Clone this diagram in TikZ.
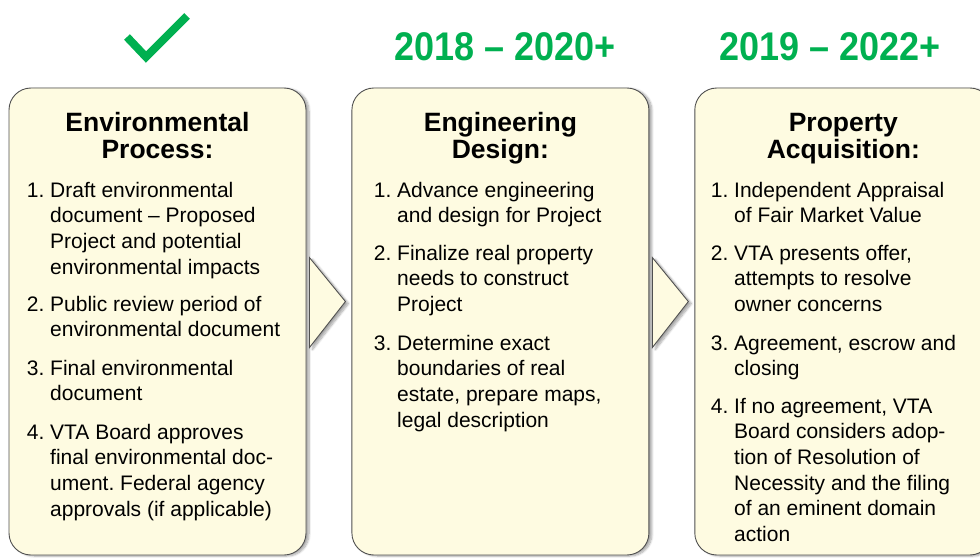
\documentclass[tikz,border=0pt]{standalone}
\usepackage{fontspec}
\setmainfont{Liberation Sans}
\newfontfamily\yearfont[FakeStretch=0.9]{Liberation Sans}
\usetikzlibrary{positioning,shadows.blur}
\definecolor{cream}{RGB}{254,251,225}
\definecolor{frame}{RGB}{80,80,80}
\definecolor{okgreen}{RGB}{0,176,80}
\frenchspacing

\begin{document}
\begin{tikzpicture}[x=1pt,y=-1pt,
    stage/.style={draw=frame,line width=0.9pt,fill=cream,rounded corners=22pt,
        minimum width=297pt,minimum height=467pt,inner sep=0pt,
        blur shadow={shadow xshift=3pt,shadow yshift=-1pt,shadow opacity=35,shadow blur steps=8}},
    tri/.style={draw=frame,line width=0.9pt,fill=cream,line join=miter,
        blur shadow={shadow xshift=3pt,shadow yshift=-2pt,shadow opacity=35,shadow blur steps=8}},
    head/.style={anchor=base,align=center,inner sep=0pt,font=\fontsize{26.5}{27}\selectfont\bfseries},
    item/.style={anchor=base west,align=left,inner sep=0pt,font=\fontsize{21}{25.7}\selectfont},
    year/.style={anchor=base,inner sep=0pt,text=okgreen,font=\yearfont\bfseries\fontsize{40}{40}\selectfont},
    check/.style={draw=okgreen,line width=8pt,miter limit=4}]
    \useasboundingbox (0,0) rectangle (980,559);

    \node[stage] (env) at (157.5,321.5) {};
    \node[stage] (eng) [right=45pt of env] {};
    \node[stage] (prop) [right=45pt of eng] {};

    \path[tri] (env.north east) ++(3,170) -- ++(36,44) -- ++(-36,46) -- cycle;
    \path[tri] (eng.north east) ++(3,170) -- ++(36,44) -- ++(-36,46) -- cycle;

    \draw[check] (127,37) -- (146,57) -- (187,16);
    \node[year] (engyear) at (505,61) {2018 – 2020+};
    \node[year] (propyear) at (830,61) {2019 – 2022+};

    % base of a node = baseline of its last line
    \node[head] (envhead) at (env.north |- 0,159) {Environmental\\Process:};
    \node[head] (enghead) at (eng.north |- 0,159) {Engineering\\Design:};
    \node[head] (prophead) at (prop.north |- 0,159) {Property\\Acquisition:};

    \node[item] (env1) at (50,274.1) {\llap{1.~}Draft environmental\\document – Proposed\\Project and potential\\environmental impacts};
    \node[item] (env2) at (50,336.7) {\llap{2.~}Public review period of\\environmental document};
    \node[item] (env3) at (50,400.7) {\llap{3.~}Final environmental\\document};
    \node[item] (env4) at (50,516.1) {\llap{4.~}VTA Board approves\\final environmental doc-\\ument. Federal agency\\approvals (if applicable)};

    \node[item] (eng1) at (397,222.7) {\llap{1.~}Advance engineering\\and design for Project};
    \node[item] (eng2) at (397,311.4) {\llap{2.~}Finalize real property\\needs to construct\\Project};
    \node[item] (eng3) at (397,427.1) {\llap{3.~}Determine exact\\boundaries of real\\estate, prepare maps,\\legal description};

    \node[item] (prop1) at (734,222.7) {\llap{1.~}Independent Appraisal\\of Fair Market Value};
    \node[item] (prop2) at (734,311.4) {\llap{2.~}VTA presents offer,\\attempts to resolve\\owner concerns};
    \node[item] (prop3) at (734,375.7) {\llap{3.~}Agreement, escrow and\\closing};
    \node[item] (prop4) at (734,541.5) {\llap{4.~}If no agreement, VTA\\Board considers adop-\\tion of Resolution of\\Necessity and the filing\\of an eminent domain\\action};
\end{tikzpicture}
\end{document}
